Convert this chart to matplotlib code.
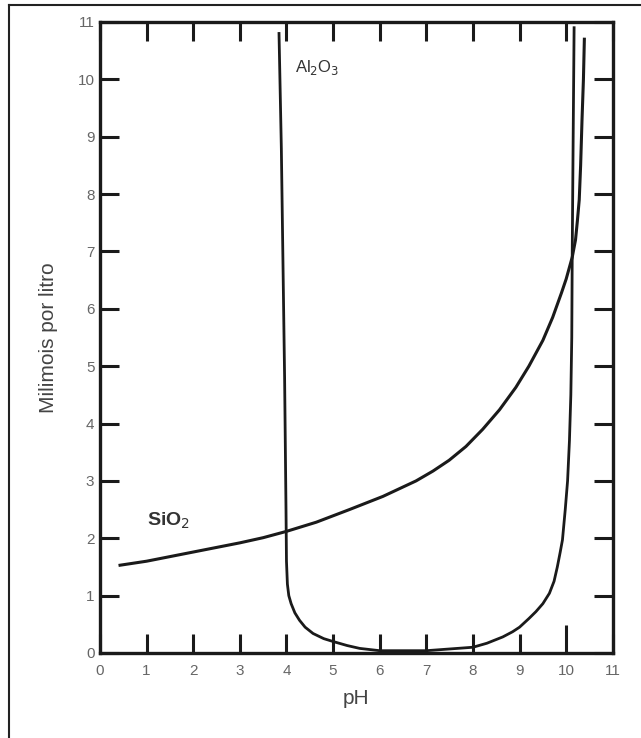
import matplotlib
matplotlib.use("Agg")
import matplotlib.pyplot as plt
from matplotlib.lines import Line2D

plt.rcParams['font.family'] = ['Liberation Sans', 'DejaVu Sans']

# curves (pH, millimoles per litre)
al2o3_ph = [3.84, 3.89, 3.96, 3.99, 4.00, 4.02, 4.05, 4.10, 4.18, 4.28, 4.40,
            4.57, 4.80, 5.00, 5.30, 5.57, 6.00, 7.00, 8.00, 8.30, 8.64, 8.85,
            9.00, 9.20, 9.35, 9.50, 9.64, 9.74, 9.81, 9.87, 9.92, 9.98, 10.03,
            10.07, 10.10, 10.12, 10.13, 10.15, 10.17]
al2o3_mm = [10.8, 8.8, 4.8, 2.5, 1.6, 1.2, 1.0, 0.86, 0.70, 0.57, 0.45,
            0.34, 0.25, 0.20, 0.13, 0.08, 0.04, 0.04, 0.10, 0.17, 0.28, 0.37,
            0.45, 0.60, 0.72, 0.86, 1.04, 1.25, 1.50, 1.75, 1.97, 2.5, 3.0,
            3.7, 4.5, 5.5, 7.0, 9.0, 10.9]

sio2_ph = [0.43, 1.00, 1.50, 2.00, 2.50, 3.00, 3.50, 4.00, 4.64, 5.35, 6.07,
           6.78, 7.14, 7.49, 7.85, 8.21, 8.57, 8.92, 9.20, 9.50, 9.71, 9.90,
           10.00, 10.13, 10.20, 10.24, 10.28, 10.31, 10.34, 10.37, 10.39]
sio2_mm = [1.53, 1.60, 1.68, 1.76, 1.84, 1.92, 2.01, 2.12, 2.28, 2.50, 2.73,
           3.00, 3.17, 3.36, 3.60, 3.90, 4.24, 4.63, 5.00, 5.45, 5.85, 6.28,
           6.52, 6.90, 7.20, 7.53, 7.90, 8.50, 9.30, 10.00, 10.70]

ticks = list(range(0, 12))

fig = plt.figure(figsize=(6.41, 7.38), dpi=100)
ax = fig.add_axes([0.156, 0.1152, 0.800, 0.8550])

ax.plot(al2o3_ph, al2o3_mm, color='#1a1a1a', lw=2.0, solid_joinstyle='round')
ax.plot(sio2_ph, sio2_mm, color='#1a1a1a', lw=2.2, solid_joinstyle='round')

ax.set_xlim(0, 11)
ax.set_ylim(0, 11)
ax.set_xticks(ticks)
ax.set_yticks(ticks)
ax.tick_params(direction='in', length=14, width=2.2, color='#1a1a1a',
               top=True, right=True, labelsize=11, labelcolor='#666666')
ax.tick_params(axis='x', pad=8)
ax.tick_params(axis='y', pad=4)
# one longer tick at pH 10 on the bottom axis
ax.xaxis.get_major_ticks()[10].tick1line.set_markersize(20)
for s in ax.spines.values():
    s.set_linewidth(2.4)
    s.set_color('#1a1a1a')

ax.text(4.65, 10.2, 'Al$_2$O$_3$', fontsize=12, color='#333333',
        ha='center', va='center')
ax.text(1.48, 2.3, 'SiO$_2$', fontsize=14, fontweight='bold', color='#333333',
        ha='center', va='center')

ax.set_xlabel('pH', fontsize=15, color='#444444', labelpad=8)
ax.set_ylabel('Milimois por litro', fontsize=15, color='#444444', labelpad=14)

# outer frame of the picture
fig.add_artist(Line2D([9 / 641, 9 / 641], [0, 1 - 5 / 738], transform=fig.transFigure,
                      color='#222222', lw=1.5))
fig.add_artist(Line2D([9 / 641, 1], [1 - 5 / 738, 1 - 5 / 738], transform=fig.transFigure,
                      color='#222222', lw=1.5))

fig.savefig('out.png', dpi=100)
